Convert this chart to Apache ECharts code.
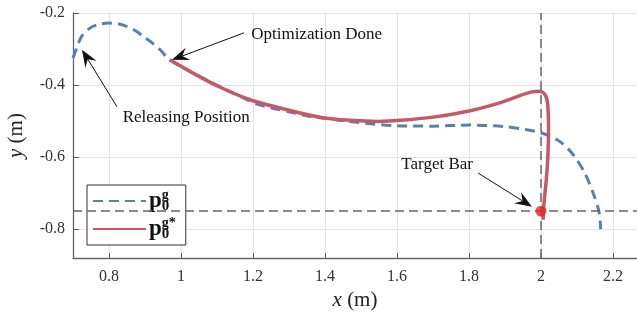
<!DOCTYPE html>
<html>
<head>
<meta charset="utf-8">
<script src="https://cdn.jsdelivr.net/npm/echarts@6/dist/echarts.min.js"></script>
<style>
  html, body { margin: 0; padding: 0; background: #fff; }
  #chart { width: 637px; height: 313px; }
</style>
</head>
<body>
<div id="chart"></div>
<script>
// planned trajectory p0^g (dashed blue)
var blueX = [0.700, 0.710, 0.724, 0.747, 0.770, 0.798, 0.825, 0.849, 0.875, 0.895, 0.920, 0.942, 0.969,
    1.034, 1.136, 1.219, 1.300, 1.358, 1.469, 1.600, 1.700, 1.803, 1.895, 1.960, 2.002, 2.053, 2.090, 2.122, 2.145, 2.161, 2.166];
var blueY = [-0.325, -0.298, -0.265, -0.242, -0.232, -0.228, -0.230, -0.237, -0.250, -0.265, -0.283, -0.302, -0.330,
    -0.367, -0.418, -0.455, -0.474, -0.487, -0.501, -0.513, -0.514, -0.511, -0.515, -0.524, -0.533, -0.557, -0.594, -0.645, -0.700, -0.751, -0.800];

// optimized trajectory p0^g* (solid red)
var redX = [0.969, 1.030, 1.100, 1.190, 1.300, 1.390, 1.470, 1.550, 1.610, 1.700, 1.800, 1.890, 1.945, 1.975,
    1.996, 2.009, 2.017, 2.020, 2.021, 2.019, 2.015, 2.011, 2.007, 2.006];
var redY = [-0.330, -0.365, -0.402, -0.440, -0.470, -0.490, -0.498, -0.501, -0.498, -0.489, -0.472, -0.448, -0.428, -0.419,
    -0.417, -0.424, -0.442, -0.475, -0.520, -0.600, -0.660, -0.700, -0.745, -0.774];

var target = [2.0, -0.75];

// annotations: [text, textX, textY, tailX, tailY, tipX, tipY]
var notes = [
    ['Optimization Done', 1.195, -0.260, 1.175, -0.255, 0.975, -0.330],
    ['Releasing Position', 0.838, -0.491, 0.822, -0.460, 0.725, -0.302],
    ['Target Bar', 1.612, -0.621, 1.825, -0.644, 1.975, -0.738]
];

function zip(xs, ys) {
    return xs.map(function (x, i) { return [x, ys[i]]; });
}

var serif = 'Liberation Serif';
var myChart = echarts.init(document.getElementById('chart'));

option = {
    animation: false,
    grid: {
        left: 73,
        right: 0,
        top: 13,
        bottom: 55,
        outerBoundsMode: 'none'
    },
    legend: {
        orient: 'vertical',
        left: 87,
        top: 185,
        itemWidth: 53,
        itemHeight: 14,
        itemGap: 2,
        padding: [3, 10, 3, 5],
        borderColor: '#333',
        borderWidth: 1,
        backgroundColor: '#fff',
        itemStyle: { opacity: 0, borderWidth: 0 },
        data: ['g', 'gs'],
        formatter: function (name) {
            return name === 'g' ? '{p|p}{s|0}{t|g}' : '{p|p}{s|0}{t|g*}';
        },
        textStyle: {
            color: '#111',
            padding: [0, 0, 0, -2],
            rich: {
                p: { fontFamily: serif, fontWeight: 'bold', fontSize: 23, lineHeight: 26 },
                s: { fontFamily: serif, fontWeight: 'bold', fontSize: 15, lineHeight: 12, width: 0, verticalAlign: 'bottom' },
                t: { fontFamily: serif, fontWeight: 'bold', fontSize: 14, lineHeight: 12, verticalAlign: 'top' }
            }
        }
    },
    xAxis: {
        type: 'value',
        min: 0.7,
        max: 2.2667,
        splitNumber: 8,
        minInterval: 0.2,
        maxInterval: 0.2,
        name: '{i|x} (m)',
        nameLocation: 'middle',
        nameGap: 28,
        nameTextStyle: {
            fontFamily: serif,
            fontSize: 21,
            color: '#222',
            rich: { i: { fontFamily: serif, fontStyle: 'italic', fontSize: 21, color: '#222' } }
        },
        axisLine: { lineStyle: { color: '#666', width: 1.3 } },
        axisTick: { inside: true, length: 5, lineStyle: { color: '#555' } },
        axisLabel: {
            fontFamily: serif, fontSize: 16, color: '#333', margin: 11,
            showMinLabel: false, showMaxLabel: false
        },
        splitLine: { lineStyle: { color: '#e3e3e3', width: 1 } }
    },
    yAxis: {
        type: 'value',
        min: -0.88,
        max: -0.2,
        splitNumber: 4,
        minInterval: 0.2,
        maxInterval: 0.2,
        name: '{i|y} (m)',
        nameLocation: 'middle',
        nameGap: 46,
        nameTextStyle: {
            fontFamily: serif,
            fontSize: 21,
            color: '#222',
            rich: { i: { fontFamily: serif, fontStyle: 'italic', fontSize: 21, color: '#222' } }
        },
        axisLine: { lineStyle: { color: '#666', width: 1.3 } },
        axisTick: { inside: true, length: 6, lineStyle: { color: '#555' } },
        axisLabel: {
            fontFamily: serif, fontSize: 16, color: '#333', margin: 8,
            padding: [3, 0, 0, 0],
            showMinLabel: false
        },
        splitLine: { lineStyle: { color: '#e3e3e3', width: 1 } }
    },
    series: [{
        name: 'g',
        type: 'line',
        data: zip(blueX, blueY),
        symbol: 'none',
        smooth: 0.3,
        z: 3,
        lineStyle: { color: '#5a80ad', width: 3, type: [10, 6] },
        itemStyle: { color: '#5a80ad' },
        markLine: {
            silent: true,
            symbol: 'none',
            label: { show: false },
            lineStyle: { color: '#666', width: 1.5, type: [9, 5] },
            data: [{ xAxis: target[0] }, { yAxis: target[1] }]
        }
    }, {
        name: 'gs',
        type: 'line',
        data: zip(redX, redY),
        symbol: 'none',
        smooth: 0.3,
        z: 4,
        lineStyle: { color: '#c55a67', width: 3.5 },
        itemStyle: { color: '#c55a67' }
    }, {
        name: 'target',
        type: 'scatter',
        data: [target],
        symbolSize: 11,
        z: 5,
        itemStyle: { color: '#e8262a' }
    }]
};

myChart.setOption(option);

// arrows + text drawn in pixel space from data coordinates
var graphics = [];
notes.forEach(function (n) {
    var t = myChart.convertToPixel({ gridIndex: 0 }, [n[1], n[2]]);
    var a = myChart.convertToPixel({ gridIndex: 0 }, [n[3], n[4]]);
    var b = myChart.convertToPixel({ gridIndex: 0 }, [n[5], n[6]]);
    var dx = b[0] - a[0], dy = b[1] - a[1];
    var len = Math.sqrt(dx * dx + dy * dy);
    var ux = dx / len, uy = dy / len;
    var nx = -uy, ny = ux;
    var L = 17, W = 6.5, notch = 6;
    graphics.push({
        type: 'line',
        shape: { x1: a[0], y1: a[1], x2: b[0] - ux * (L - notch), y2: b[1] - uy * (L - notch) },
        style: { stroke: '#111', lineWidth: 1 },
        z: 10
    });
    graphics.push({
        type: 'polygon',
        shape: {
            points: [
                [b[0], b[1]],
                [b[0] - ux * L + nx * W, b[1] - uy * L + ny * W],
                [b[0] - ux * (L - notch), b[1] - uy * (L - notch)],
                [b[0] - ux * L - nx * W, b[1] - uy * L - ny * W]
            ]
        },
        style: { fill: '#111' },
        z: 10
    });
    graphics.push({
        type: 'text',
        x: t[0],
        y: t[1],
        style: {
            text: n[0],
            fontFamily: serif,
            fontSize: 17,
            fill: '#111',
            verticalAlign: 'middle'
        },
        z: 10
    });
});
myChart.setOption({ graphic: graphics });
</script>
</body>
</html>
